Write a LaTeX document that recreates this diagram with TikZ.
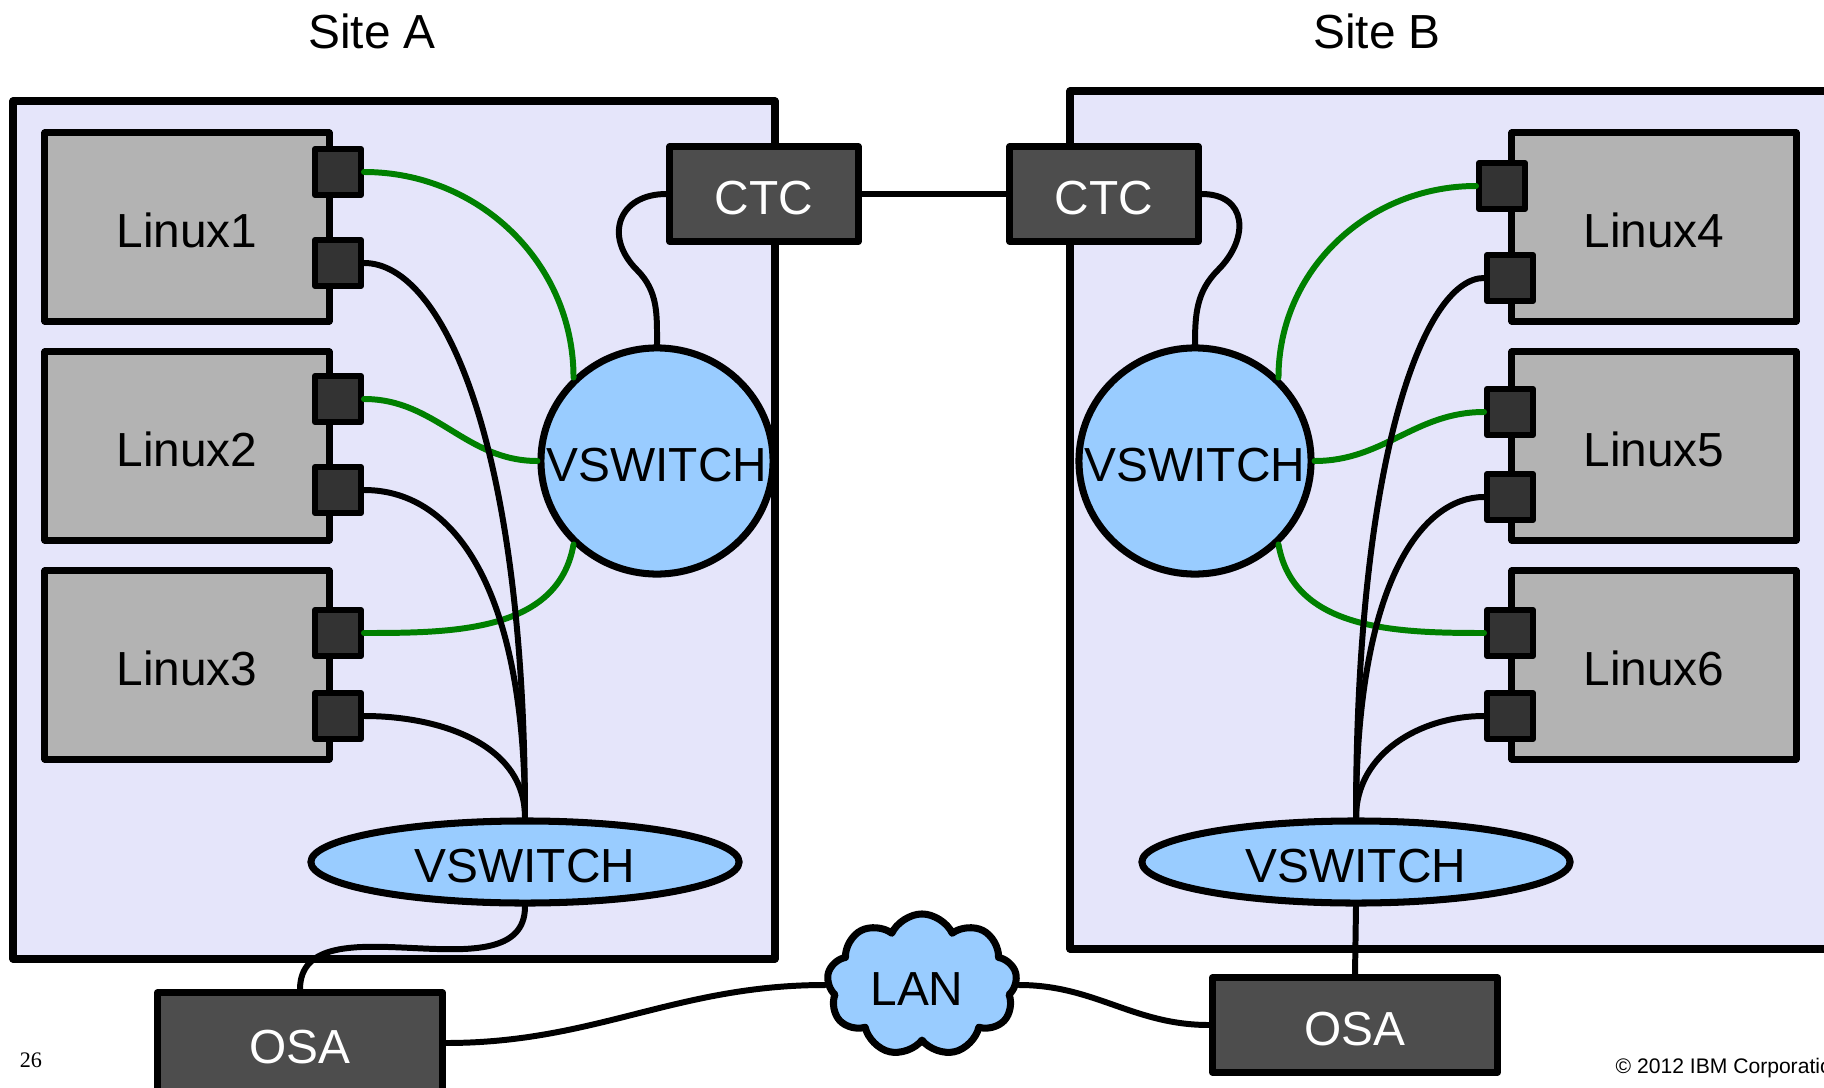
\documentclass[tikz,border=0pt]{standalone}
\usepackage{fontspec}
\setmainfont{Liberation Sans}
\newfontfamily\pageserif{Liberation Serif}
\usetikzlibrary{shapes.geometric,shapes.symbols}
\definecolor{sitebg}{HTML}{E5E5FA}
\definecolor{linuxgray}{HTML}{B3B3B3}
\definecolor{portgray}{HTML}{333333}
\definecolor{devgray}{HTML}{4D4D4D}
\definecolor{vsblue}{HTML}{99CCFF}
\definecolor{wiregreen}{HTML}{008000}
\begin{document}
\begin{tikzpicture}[x=0.01cm, y=-0.01cm, line join=round, line cap=round,
	font=\fontsize{13.6}{16}\selectfont,
	site/.style={draw, line width=2pt, fill=sitebg},
	linux/.style={draw, line width=2pt, fill=linuxgray, minimum width=2.84cm, minimum height=1.88cm, text height=11.7pt},
	port/.style={draw, line width=1.7pt, fill=portgray, minimum width=0.46cm, minimum height=0.46cm},
	dev/.style={draw, line width=2pt, fill=devgray, text=white, minimum width=1.88cm, minimum height=0.95cm, text height=11.7pt},
	vsw/.style={ellipse, draw, line width=2pt, fill=vsblue, label={[text height=11.7pt]center:VSWITCH}},
	wire/.style={line width=1.7pt},
	gwire/.style={wire, draw=wiregreen}]
	\useasboundingbox (0,0) rectangle (1824,1088);
	% sites
	\draw[site] (13,101) rectangle (775,959);
	\draw[site] (1070,91) rectangle (1850,949);
	\node (titleA) at (372,31) {Site A};
	\node (titleB) at (1377,31) {Site B};
	% guests
	\node[linux] (lx1) at (187,227) {Linux1};
	\node[linux] (lx2) at (187,446) {Linux2};
	\node[linux] (lx3) at (187,665) {Linux3};
	\node[linux] (lx4) at (1654,227) {Linux4};
	\node[linux] (lx5) at (1654,446) {Linux5};
	\node[linux] (lx6) at (1654,665) {Linux6};
	\node[port] (p1a) at (338,172) {}; \node[port] (p1b) at (338,263) {};
	\node[port] (p2a) at (338,399) {}; \node[port] (p2b) at (338,490) {};
	\node[port] (p3a) at (338,633) {}; \node[port] (p3b) at (338,716) {};
	\node[port] (p4a) at (1502,186) {}; \node[port] (p4b) at (1510,278) {};
	\node[port] (p5a) at (1510,412) {}; \node[port] (p5b) at (1510,497) {};
	\node[port] (p6a) at (1510,633) {}; \node[port] (p6b) at (1510,716) {};
	% switches and devices
	\node[vsw, minimum width=2.32cm, minimum height=2.26cm] (vsA) at (657,461) {};
	\node[vsw, minimum width=2.32cm, minimum height=2.26cm] (vsB) at (1195,461) {};
	\node[vsw, minimum width=4.28cm, minimum height=0.82cm] (vsA2) at (525,862) {};
	\node[vsw, minimum width=4.28cm, minimum height=0.82cm] (vsB2) at (1356,862) {};
	\node[dev] (ctcA) at (764,194) {CTC};
	\node[dev] (ctcB) at (1104,194) {CTC};
	\node[dev, minimum width=2.85cm, minimum height=1cm] (osaA) at (300,1043) {OSA};
	\node[dev, minimum width=2.85cm, minimum height=0.94cm] (osaB) at (1355,1025) {OSA};
	\node[cloud, cloud puffs=9, cloud puff arc=130, cloud ignores aspect, draw, line width=2pt, fill=vsblue,
		minimum width=1.9cm, minimum height=1.42cm, label={[xshift=-0.05cm, text height=11.7pt]center:LAN}] (lan) at (922,985) {};
	\coordinate (kinkA) at (637,270);
	\coordinate (kinkB) at (1218,270);
	% Site A wiring
	\draw[gwire] (p1a.east) to[out=0,in=90] (vsA.135);
	\draw[gwire] (p2a.east) to[out=0,in=180] (vsA.west);
	\draw[gwire] (p3a.east) to[out=0,in=-100] (vsA.-135);
	\draw[wire] (p1b.east) to[out=0,in=90,out distance=0.8cm,in distance=3.7cm] (vsA2.north);
	\draw[wire] (p2b.east) to[out=0,in=90,out distance=0.95cm,in distance=2.2cm] (vsA2.north);
	\draw[wire] (p3b.east) to[out=0,in=90] (vsA2.north);
	\draw[wire] (ctcA.west) to[out=180,in=135,looseness=1.5] (kinkA) to[out=-45,in=90] (vsA.north);
	% Site B wiring
	\draw[gwire] (p4a.west) to[out=180,in=90] (vsB.45);
	\draw[gwire] (p5a.west) to[out=180,in=0] (vsB.east);
	\draw[gwire] (p6a.west) to[out=180,in=-80] (vsB.-45);
	\draw[wire] (p4b.west) to[out=180,in=90,out distance=0.6cm,in distance=3.6cm] (vsB2.north);
	\draw[wire] (p5b.west) to[out=180,in=90,out distance=0.6cm,in distance=2.4cm] (vsB2.north);
	\draw[wire] (p6b.west) to[out=180,in=90] (vsB2.north);
	\draw[wire] (ctcB.east) to[out=0,in=45,looseness=1.5] (kinkB) to[out=-135,in=90] (vsB.north);
	% between the sites
	\draw[wire] (ctcA.east) -- (ctcB.west);
	\draw[wire] (vsA2.south) to[out=-90,in=90] (osaA.north);
	\draw[wire] (osaA.east) to[out=0,in=180] (lan.west);
	\draw[wire] (lan.east) to[out=0,in=180] (osaB.west);
	\draw[wire] (osaB.north) -- (vsB2.south);
	% footer
	\node[font=\pageserif\fontsize{6.3}{7}\selectfont] (pageno) at (31,1060) {26};
	\node[anchor=west, inner sep=0pt, font=\fontsize{6}{7}\selectfont] (copyr) at (1615,1068) {© 2012 IBM Corporation};
\end{tikzpicture}
\end{document}
